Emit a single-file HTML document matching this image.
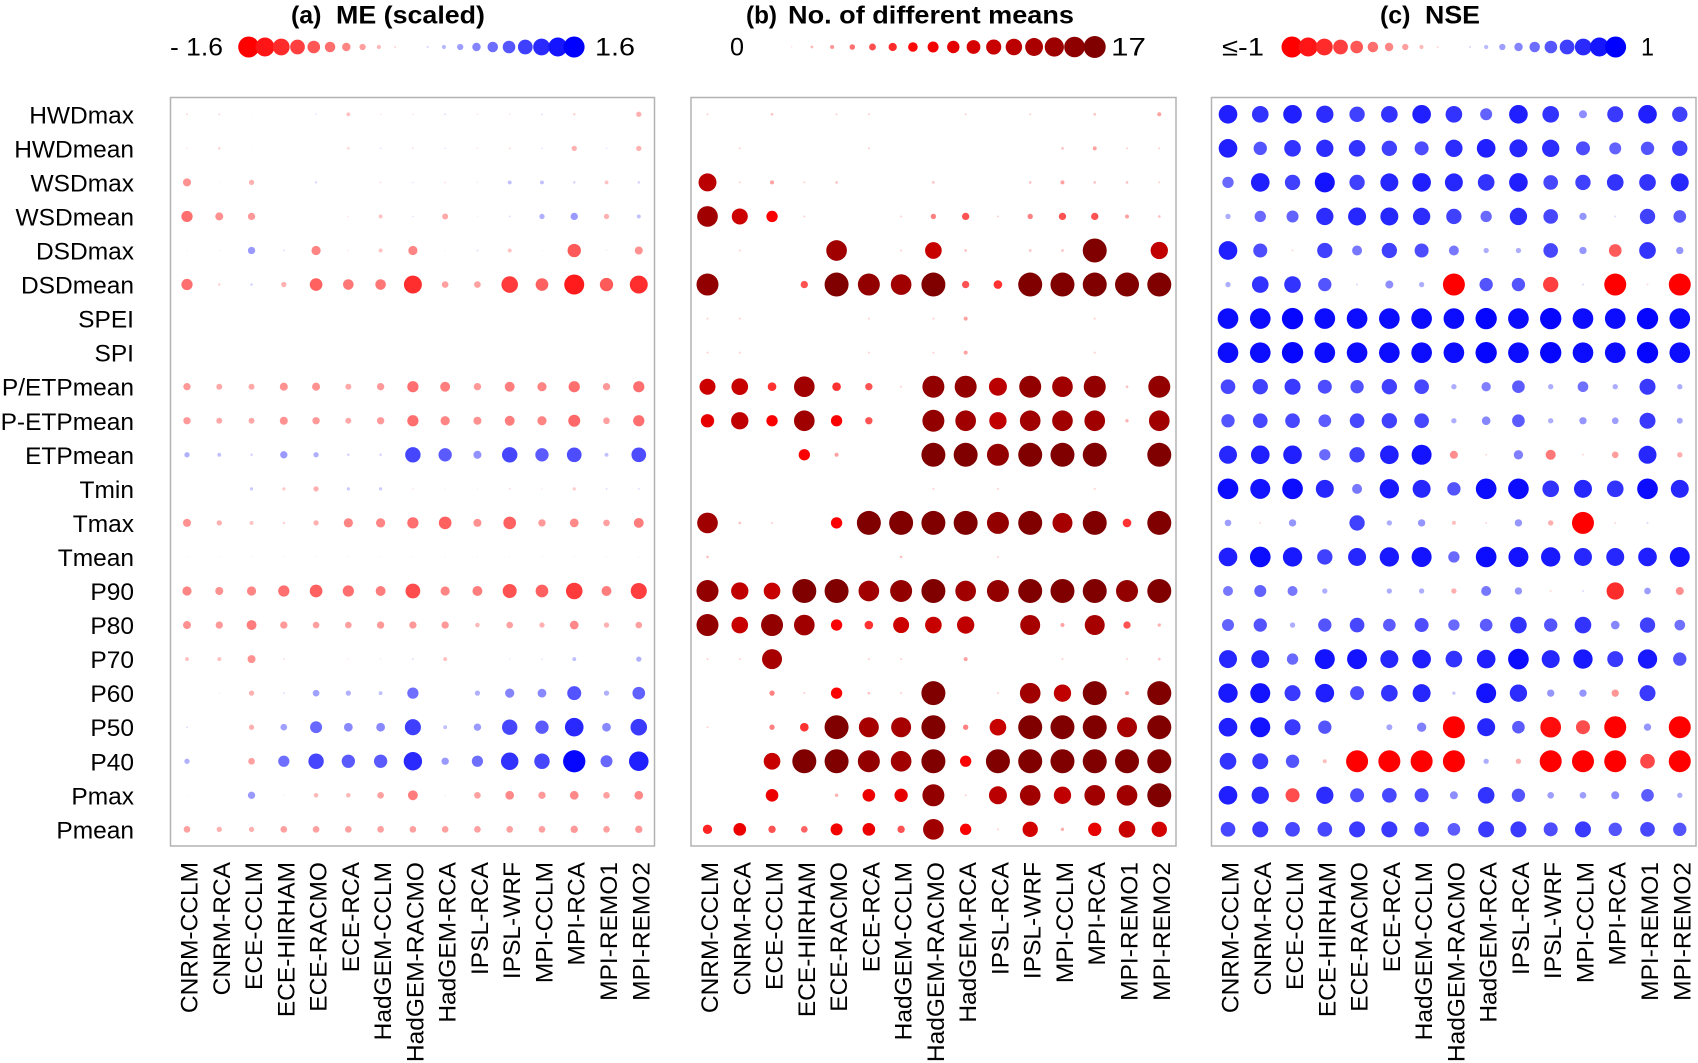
<!DOCTYPE html>
<html><head><meta charset="utf-8">
<style>
html,body{margin:0;padding:0;background:#fff;}
svg{display:block;}
text{font-family:"Liberation Sans",Arial,sans-serif;fill:#000;}
</style></head><body>
<svg id="s" width="1698" height="1063" viewBox="0 0 1698 1063" xmlns="http://www.w3.org/2000/svg">
<rect width="1698" height="1063" fill="#fff"/>
<g font-weight="bold" font-size="25">
<text x="291" y="23.5" textLength="30.5" lengthAdjust="spacingAndGlyphs">(a)</text>
<text x="336" y="23.5" textLength="149" lengthAdjust="spacingAndGlyphs">ME (scaled)</text>
<text x="746" y="23.5" textLength="31" lengthAdjust="spacingAndGlyphs">(b)</text>
<text x="788" y="23.5" textLength="286" lengthAdjust="spacingAndGlyphs">No. of different means</text>
<text x="1380" y="23.5" textLength="30.5" lengthAdjust="spacingAndGlyphs">(c)</text>
<text x="1425" y="23.5" textLength="55" lengthAdjust="spacingAndGlyphs">NSE</text>
</g>
<g font-size="25">
<text x="170" y="55.5" textLength="53" lengthAdjust="spacingAndGlyphs">- 1.6</text>
<text x="595" y="55.5" textLength="40" lengthAdjust="spacingAndGlyphs">1.6</text>
<text x="730" y="55.5" textLength="14" lengthAdjust="spacingAndGlyphs">0</text>
<text x="1111" y="55.5" textLength="35" lengthAdjust="spacingAndGlyphs">17</text>
<text x="1222" y="55.5" textLength="42" lengthAdjust="spacingAndGlyphs">≤-1</text>
<text x="1641" y="55.5" textLength="13" lengthAdjust="spacingAndGlyphs">1</text>
</g>
<g id="dots"></g>
<g fill="none" stroke="#b3b3b3" stroke-width="1.5">
<rect x="170.5" y="97.5" width="484" height="748.5"/>
<rect x="691" y="97.5" width="485" height="748.5"/>
<rect x="1211.5" y="97.5" width="484.5" height="748.5"/>
</g>
<g font-size="24.5" text-anchor="end">
<text x="134" y="123.3">HWDmax</text>
<text x="134" y="157.35">HWDmean</text>
<text x="134" y="191.4">WSDmax</text>
<text x="134" y="225.45">WSDmean</text>
<text x="134" y="259.5">DSDmax</text>
<text x="134" y="293.55">DSDmean</text>
<text x="134" y="327.6">SPEI</text>
<text x="134" y="361.65">SPI</text>
<text x="134" y="395.7">P/ETPmean</text>
<text x="134" y="429.75">P-ETPmean</text>
<text x="134" y="463.8">ETPmean</text>
<text x="134" y="497.85">Tmin</text>
<text x="134" y="531.9">Tmax</text>
<text x="134" y="565.95">Tmean</text>
<text x="134" y="600">P90</text>
<text x="134" y="634.05">P80</text>
<text x="134" y="668.1">P70</text>
<text x="134" y="702.15">P60</text>
<text x="134" y="736.2">P50</text>
<text x="134" y="770.25">P40</text>
<text x="134" y="804.3">Pmax</text>
<text x="134" y="838.35">Pmean</text>
</g>
<g font-size="24.5" text-anchor="end">
<text transform="translate(197.5,862) rotate(-90)">CNRM-CCLM</text>
<text transform="translate(229.77,862) rotate(-90)">CNRM-RCA</text>
<text transform="translate(262.04,862) rotate(-90)">ECE-CCLM</text>
<text transform="translate(294.31,862) rotate(-90)">ECE-HIRHAM</text>
<text transform="translate(326.58,862) rotate(-90)">ECE-RACMO</text>
<text transform="translate(358.85,862) rotate(-90)">ECE-RCA</text>
<text transform="translate(391.12,862) rotate(-90)">HadGEM-CCLM</text>
<text transform="translate(423.39,862) rotate(-90)">HadGEM-RACMO</text>
<text transform="translate(455.66,862) rotate(-90)">HadGEM-RCA</text>
<text transform="translate(487.93,862) rotate(-90)">IPSL-RCA</text>
<text transform="translate(520.2,862) rotate(-90)">IPSL-WRF</text>
<text transform="translate(552.47,862) rotate(-90)">MPI-CCLM</text>
<text transform="translate(584.74,862) rotate(-90)">MPI-RCA</text>
<text transform="translate(617.01,862) rotate(-90)">MPI-REMO1</text>
<text transform="translate(649.28,862) rotate(-90)">MPI-REMO2</text>

<text transform="translate(718,862) rotate(-90)">CNRM-CCLM</text>
<text transform="translate(750.27,862) rotate(-90)">CNRM-RCA</text>
<text transform="translate(782.54,862) rotate(-90)">ECE-CCLM</text>
<text transform="translate(814.81,862) rotate(-90)">ECE-HIRHAM</text>
<text transform="translate(847.08,862) rotate(-90)">ECE-RACMO</text>
<text transform="translate(879.35,862) rotate(-90)">ECE-RCA</text>
<text transform="translate(911.62,862) rotate(-90)">HadGEM-CCLM</text>
<text transform="translate(943.89,862) rotate(-90)">HadGEM-RACMO</text>
<text transform="translate(976.16,862) rotate(-90)">HadGEM-RCA</text>
<text transform="translate(1008.43,862) rotate(-90)">IPSL-RCA</text>
<text transform="translate(1040.7,862) rotate(-90)">IPSL-WRF</text>
<text transform="translate(1072.97,862) rotate(-90)">MPI-CCLM</text>
<text transform="translate(1105.24,862) rotate(-90)">MPI-RCA</text>
<text transform="translate(1137.51,862) rotate(-90)">MPI-REMO1</text>
<text transform="translate(1169.78,862) rotate(-90)">MPI-REMO2</text>

<text transform="translate(1238.5,862) rotate(-90)">CNRM-CCLM</text>
<text transform="translate(1270.77,862) rotate(-90)">CNRM-RCA</text>
<text transform="translate(1303.04,862) rotate(-90)">ECE-CCLM</text>
<text transform="translate(1335.31,862) rotate(-90)">ECE-HIRHAM</text>
<text transform="translate(1367.58,862) rotate(-90)">ECE-RACMO</text>
<text transform="translate(1399.85,862) rotate(-90)">ECE-RCA</text>
<text transform="translate(1432.12,862) rotate(-90)">HadGEM-CCLM</text>
<text transform="translate(1464.39,862) rotate(-90)">HadGEM-RACMO</text>
<text transform="translate(1496.66,862) rotate(-90)">HadGEM-RCA</text>
<text transform="translate(1528.93,862) rotate(-90)">IPSL-RCA</text>
<text transform="translate(1561.2,862) rotate(-90)">IPSL-WRF</text>
<text transform="translate(1593.47,862) rotate(-90)">MPI-CCLM</text>
<text transform="translate(1625.74,862) rotate(-90)">MPI-RCA</text>
<text transform="translate(1658.01,862) rotate(-90)">MPI-REMO1</text>
<text transform="translate(1690.28,862) rotate(-90)">MPI-REMO2</text>
</g>
</svg>
<script>
(function(){
var NS="http://www.w3.org/2000/svg";
var g=document.getElementById('dots');
function circ(x,y,d,col){ if(d<0.4)return; var c=document.createElementNS(NS,'circle'); c.setAttribute('cx',x.toFixed(2));c.setAttribute('cy',y.toFixed(2));c.setAttribute('r',(d/2).toFixed(2));c.setAttribute('fill',col);g.appendChild(c);}
function rb(v){var a=Math.pow(Math.min(1,Math.abs(v)),0.8);var w=Math.round(255*(1-a));return v<0?'rgb(255,'+w+','+w+')':'rgb('+w+','+w+',255)';}
function dr(t){t=Math.min(1,t);if(t<=0.45){var w=Math.round(255*(1-t/0.45));return 'rgb(255,'+w+','+w+')';}var r=Math.round(255-(t-0.45)/0.55*127);return 'rgb('+r+',0,0)';}
var L=[170.5,691,1211.5];
function cx(p,j){return L[p]+16.5+j*32.27;}
function ry(i){return 114.3+i*34.05;}
var Z=[0,0,0,0,0,0,0,0,0,0,0,0,0,0,0];
var A=[
[-.09,-.09,-.04,0,.07,-.17,-.07,-.07,.08,-.07,-.07,.08,-.11,-.03,-.23],
[-.07,-.11,-.04,-.03,.03,-.11,.07,-.08,.07,-.07,-.09,.07,-.23,.07,-.23],
[-.35,-.05,-.23,-.03,.1,0,-.08,.07,-.08,-.06,.17,.17,.11,-.17,.11],
[-.49,-.35,-.32,-.03,-.03,-.07,-.17,.07,-.26,-.05,.08,.23,.32,-.23,.17],
[-.05,.05,.32,.08,-.4,-.07,-.17,-.4,-.05,.08,-.17,-.05,-.58,-.06,-.35],
[-.49,-.11,.11,-.23,-.55,-.46,-.46,-.78,-.29,-.29,-.72,-.55,-.87,-.58,-.78],
Z,Z,
[-.32,-.26,-.26,-.35,-.35,-.26,-.32,-.49,-.43,-.32,-.43,-.4,-.49,-.32,-.49],
[-.32,-.26,-.26,-.35,-.32,-.26,-.32,-.49,-.4,-.35,-.43,-.4,-.52,-.29,-.49],
[.23,.17,.11,.32,.23,.11,.11,.67,.58,.35,.67,.58,.64,.17,.64],
[0,0,.14,-.14,-.23,.14,.14,-.07,-.05,-.05,-.08,-.06,-.14,.08,.08],
[-.35,-.23,-.17,-.11,-.23,-.4,-.4,-.49,-.55,-.35,-.55,-.32,-.38,-.29,-.43],
[-.05,-.05,-.05,-.05,-.05,-.05,-.05,-.05,-.05,-.05,-.05,-.05,-.05,-.05,-.05],
[-.4,-.35,-.4,-.49,-.55,-.49,-.43,-.64,-.4,-.43,-.61,-.55,-.72,-.43,-.7],
[-.35,-.32,-.43,-.32,-.29,-.29,-.32,-.32,-.32,-.2,-.29,-.23,-.38,-.23,-.29],
[-.17,-.17,-.35,-.08,0,-.06,-.06,.08,-.17,0,.06,.07,.17,0,.23],
[0,-.06,-.23,.08,.29,.23,.17,.49,0,.23,.4,.38,.61,.23,.55],
[.08,.03,-.23,.29,.52,.38,.38,.7,.17,.32,.67,.58,.81,.38,.72],
[.23,.03,-.29,.49,.67,.58,.58,.8,.32,.49,.76,.67,.97,.52,.85],
[-.05,-.04,.32,-.06,-.2,-.2,-.29,-.43,-.06,-.29,-.38,-.32,-.38,-.29,-.38],
[-.29,-.23,-.23,-.29,-.29,-.29,-.29,-.29,-.29,-.29,-.29,-.29,-.32,-.29,-.32]
];
var B=[
[6,0,8,0,6,6,0,0,6,0,6,0,8,0,12],
[0,6,0,0,0,6,0,0,0,0,0,8,12,6,6],
[54,6,12,6,8,0,0,8,0,0,8,12,8,8,6],
[62,48,34,6,0,0,6,16,22,6,16,22,22,12,8],
[0,6,0,0,62,0,6,50,8,0,8,8,72,0,52],
[66,0,0,22,72,66,62,72,22,26,72,72,72,72,72],
[6,6,0,0,0,6,0,6,12,0,0,0,6,0,0],
[6,6,0,0,0,6,0,6,12,0,0,0,6,0,0],
[48,50,26,62,26,22,6,66,66,54,66,62,66,8,66],
[40,52,34,62,34,22,0,66,62,52,62,62,62,10,62],
[0,0,0,34,12,0,0,72,72,66,72,72,72,0,72],
[0,0,0,0,0,0,0,6,0,6,0,0,6,0,0],
[62,8,6,0,34,72,72,72,72,66,72,60,72,26,72],
[8,0,0,0,0,0,8,0,0,6,0,0,0,0,0],
[66,52,50,72,72,62,66,72,62,66,72,72,72,66,72],
[66,50,66,62,34,26,48,50,52,0,60,12,60,22,10],
[6,6,60,0,0,6,6,0,12,0,0,6,0,6,8],
[0,0,16,6,34,8,6,72,0,6,62,52,72,12,72],
[6,0,16,26,72,60,60,72,16,50,72,72,72,60,72],
[0,0,50,72,72,66,62,72,34,72,72,72,72,72,72],
[0,0,38,0,10,38,40,66,6,54,62,52,62,62,72],
[28,38,22,20,36,38,22,62,34,6,46,10,40,50,46]
];
var C=[
[56,50,56,52,46,50,56,50,36,56,50,24,48,56,46],
[56,40,50,52,50,46,42,52,56,54,52,42,36,40,46],
[34,56,46,60,46,54,56,54,50,56,44,46,50,50,54],
[16,34,36,52,54,54,52,46,34,52,44,22,6,46,38],
[56,42,-6,46,30,46,42,30,16,16,44,22,-38,50,22],
[16,50,50,40,6,24,16,-66,40,40,-46,6,-66,-6,-66],
[62,62,64,62,62,62,62,62,64,62,64,62,62,64,62],
[62,62,64,62,62,62,62,62,64,62,64,62,62,64,62],
[44,46,48,42,40,46,44,16,28,38,16,32,16,48,16],
[40,44,44,38,44,46,44,16,26,38,16,22,20,48,18],
[54,56,56,34,46,56,60,-24,-6,28,-30,-6,-20,54,-16],
[62,60,62,54,30,58,54,40,62,62,50,54,50,62,54],
[20,-6,22,0,46,16,22,-12,-6,22,-16,-66,-6,6,0],
[56,62,58,46,54,58,60,34,62,60,58,54,54,56,60],
[30,36,30,16,0,16,16,-16,30,22,-6,6,-52,20,-24],
[36,40,16,40,44,38,42,34,38,50,40,50,26,46,32],
[54,54,34,60,60,54,56,50,56,62,54,58,48,58,40],
[58,60,48,56,42,50,54,10,60,52,22,22,-22,48,0],
[56,60,48,40,0,18,28,-66,54,38,-62,-42,-66,22,-66],
[50,48,40,-12,-66,-66,-66,-66,16,-16,-66,-66,-66,-44,-66],
[56,52,-42,52,42,44,42,24,50,40,20,20,24,38,16],
[44,48,44,44,48,48,44,38,48,48,42,48,40,44,40]
];
var i,j,v,d;
for(i=0;i<22;i++){for(j=0;j<15;j++){
 v=A[i][j]; d=23*Math.abs(v); circ(cx(0,j),ry(i),d,rb(v));
 d=B[i][j]/3; circ(cx(1,j),ry(i),d,dr(B[i][j]/72));
 v=C[i][j]/66; d=Math.abs(C[i][j])/3; circ(cx(2,j),ry(i),d,rb(v));
}}
// legends
var k;
for(k=0;k<=20;k++){
 v=(k-10)/10; d=21*Math.abs(v);
 circ(248.7+k*16.27,47,d,rb(v));
 circ(1292+k*16.18,47,d,rb(v));
}
for(k=1;k<=16;k++){
 circ(771.5+k*20.2,47,1.375*k,dr(k/16));
}
})();
</script>
</body></html>
